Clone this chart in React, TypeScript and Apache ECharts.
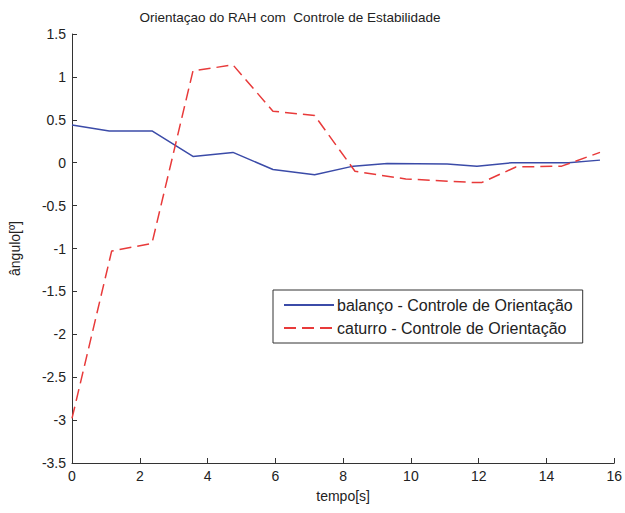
import React, { useEffect, useRef } from "react";
import * as echarts from "echarts";

const titleText = "Orientaçao do RAH com  Controle de Estabilidade";
const xName = "tempo[s]";
const yName = "ângulo[º]";
const seriesNames = ["balanço - Controle de Orientação", "caturro - Controle de Orientação"];

const balancoT = [0, 1.1, 2.36, 3.57, 4.75, 5.93, 7.16, 8.3, 9.3, 11.07, 11.95, 12.98, 14.65, 15.58];
const balancoV = [0.44, 0.37, 0.37, 0.073, 0.12, -0.08, -0.14, -0.04, -0.01, -0.015, -0.04, 0.0, 0.0, 0.03];

const caturroT = [0, 1.17, 2.36, 3.57, 4.75, 5.93, 7.16, 8.35, 9.85, 11.8, 12.1, 13.1, 14.45, 15.58];
const caturroV = [-2.98, -1.03, -0.94, 1.07, 1.14, 0.6, 0.55, -0.1, -0.19, -0.23, -0.23, -0.05, -0.04, 0.12];

const font = "Liberation Sans, Arial, sans-serif";

export default function App() {
  const ref = useRef<HTMLDivElement>(null);
  useEffect(() => {
    if (!ref.current) return;
    const chart = echarts.init(ref.current, undefined, { renderer: "svg" });
    const axisCommon = {
      axisLine: { show: true, onZero: false, lineStyle: { color: "#333", width: 1 } },
      axisTick: { show: true, inside: true, length: 5, lineStyle: { color: "#333" } },
      axisLabel: { color: "#222", fontSize: 14, fontFamily: font, margin: 6 },
      splitLine: { show: false },
      nameTextStyle: { color: "#222", fontSize: 14, fontFamily: font },
    };
    chart.setOption({
      animation: false,
      backgroundColor: "#fff",
      title: {
        text: titleText,
        left: 285,
        textAlign: "center",
        top: 5,
        textStyle: { fontSize: 13.5, fontWeight: "normal", color: "#222", fontFamily: font },
      },
      grid: { left: 71, right: 9, top: 34, bottom: 50, containLabel: false },
      legend: {
        orient: "vertical",
        left: 273,
        top: 290,
        width: 312,
        padding: [7, 10, 7, 10],
        itemGap: 7,
        itemWidth: 50,
        itemHeight: 18,
        borderColor: "#333",
        borderWidth: 1,
        backgroundColor: "#fff",
        itemStyle: { color: "transparent", borderWidth: 0 },
        textStyle: { fontSize: 16, color: "#222", fontFamily: font, padding: [0, 0, 0, -2] },
        data: seriesNames,
      },
      xAxis: {
        type: "value",
        min: 0,
        max: 16,
        interval: 2,
        name: xName,
        nameLocation: "middle",
        nameGap: 26,
        ...axisCommon,
      },
      yAxis: {
        type: "value",
        min: -3.5,
        max: 1.5,
        interval: 0.5,
        name: yName,
        nameLocation: "middle",
        nameGap: 50,
        ...axisCommon,
      },
      series: [
        {
          name: seriesNames[0],
          type: "line",
          symbol: "none",
          data: balancoT.map((t, i) => [t, balancoV[i]]),
          lineStyle: { color: "#3b4ba8", width: 1.5 },
          itemStyle: { color: "#3b4ba8" },
        },
        {
          name: seriesNames[1],
          type: "line",
          symbol: "none",
          data: caturroT.map((t, i) => [t, caturroV[i]]),
          lineStyle: { color: "#e83a3a", width: 1.5, type: [12, 6] },
          itemStyle: { color: "#e83a3a" },
        },
      ],
    });
    return () => chart.dispose();
  }, []);
  return <div ref={ref} style={{ width: 625, height: 513, position: "absolute", left: 0, top: 0 }} />;
}
